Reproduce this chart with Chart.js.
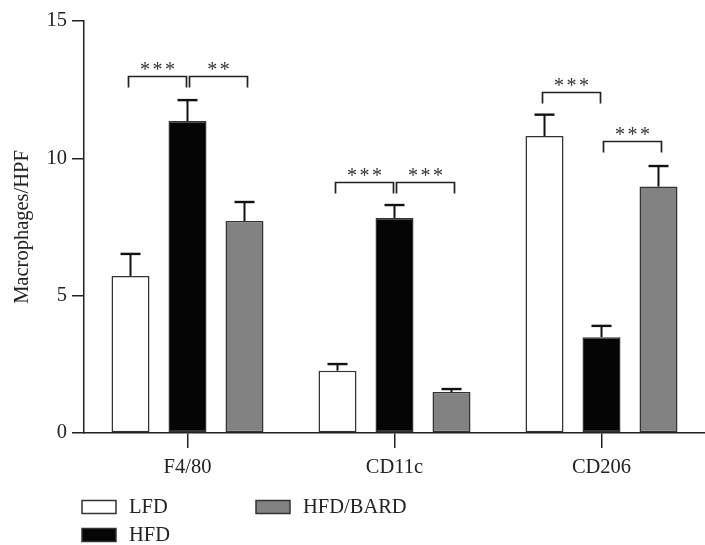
<!DOCTYPE html>
<html>
<head>
<meta charset="utf-8">
<script src="https://cdn.jsdelivr.net/npm/chart.js@4"></script>
<style>
  html, body { margin: 0; padding: 0; background: #fff; }
  #wrap { width: 705px; height: 545px; }
</style>
</head>
<body>
<div id="wrap"><canvas id="c"></canvas></div>
<script>
const CATEGORIES = ["F4/80", "CD11c", "CD206"];
const SERIES = ["LFD", "HFD", "HFD/BARD"];
const LFD = [5.72, 2.27, 10.81];
const HFD = [11.36, 7.83, 3.49];
const HFD_BARD = [7.72, 1.49, 8.97];
const LFD_ERR = [0.80, 0.24, 0.78];
const HFD_ERR = [0.76, 0.47, 0.41];
const HFD_BARD_ERR = [0.69, 0.11, 0.75];
const Y_TICKS = [0, 5, 10, 15];
// significance brackets: [category, from series, to series, height, stars]
const BRACKETS = [
    [0, 0, 1, 13.0, "***"], [0, 1, 2, 13.0, "**"],
    [1, 0, 1, 9.15, "***"], [1, 1, 2, 9.15, "***"],
    [2, 0, 1, 12.41, "***"], [2, 1, 2, 10.62, "***"],
];

const FONT = "'Liberation Serif', 'DejaVu Serif', serif";
const INK = "#222";
const FILLS = ["#ffffff", "#050505", "#828282"];
const ERRORS = [LFD_ERR, HFD_ERR, HFD_BARD_ERR];

// upward whiskers with a cap, drawn from each bar's top
const errorBars = {
    id: "errorBars",
    afterDatasetsDraw(chart) {
        const ctx = chart.ctx;
        const y = chart.scales.y;
        ctx.save();
        ctx.strokeStyle = "#111";
        chart.data.datasets.forEach((ds, i) => {
            chart.getDatasetMeta(i).data.forEach((bar, j) => {
                const top = y.getPixelForValue(ds.data[j] + ERRORS[i][j]);
                ctx.lineWidth = 2;
                ctx.beginPath();
                ctx.moveTo(bar.x, bar.y);
                ctx.lineTo(bar.x, top);
                ctx.stroke();
                ctx.lineWidth = 2.4;
                ctx.beginPath();
                ctx.moveTo(bar.x - 10, top);
                ctx.lineTo(bar.x + 10, top);
                ctx.stroke();
            });
        });
        ctx.restore();
    },
};

const brackets = {
    id: "brackets",
    afterDatasetsDraw(chart) {
        const ctx = chart.ctx;
        const y = chart.scales.y;
        ctx.save();
        ctx.strokeStyle = INK;
        ctx.fillStyle = "#333";
        ctx.lineWidth = 1.7;
        ctx.font = "20px " + FONT;
        ctx.letterSpacing = "2.5px";
        ctx.textAlign = "center";
        ctx.textBaseline = "alphabetic";
        BRACKETS.forEach(([cat, a, b, h, stars]) => {
            const shift = a === 0 ? [-2, -1] : [2, 3];
            const x1 = chart.getDatasetMeta(a).data[cat].x + shift[0];
            const x2 = chart.getDatasetMeta(b).data[cat].x + shift[1];
            const yy = Math.round(y.getPixelForValue(h)) + 0.5;
            ctx.beginPath();
            ctx.moveTo(x1, yy + 11);
            ctx.lineTo(x1, yy);
            ctx.lineTo(x2, yy);
            ctx.lineTo(x2, yy + 11);
            ctx.stroke();
            ctx.fillText(stars, (x1 + x2) / 2 + 1.2, yy - 1);
        });
        ctx.restore();
    },
};

// two-column legend under the axis
const legendBoxes = {
    id: "legendBoxes",
    afterDraw(chart) {
        const ctx = chart.ctx;
        const slots = [[82, 507], [82, 535], [256, 507]];
        ctx.save();
        ctx.font = "20.5px " + FONT;
        ctx.textBaseline = "middle";
        ctx.textAlign = "left";
        chart.data.datasets.forEach((ds, i) => {
            const [x, yc] = slots[i];
            ctx.fillStyle = ds.backgroundColor;
            ctx.fillRect(x, yc - 6.5, 34, 13);
            ctx.strokeStyle = "#333";
            ctx.lineWidth = 1.5;
            ctx.strokeRect(x, yc - 6.5, 34, 13);
            ctx.fillStyle = INK;
            ctx.fillText(ds.label, x + 47, yc + 1);
        });
        ctx.restore();
    },
};

new Chart(document.getElementById("c"), {
    type: "bar",
    data: {
        labels: CATEGORIES,
        datasets: [LFD, HFD, HFD_BARD].map((values, i) => ({
            label: SERIES[i],
            data: values,
            backgroundColor: FILLS[i],
            borderColor: "#333",
            borderWidth: 1.5,
            borderSkipped: false,
            categoryPercentage: 0.826,
            barPercentage: 0.667,
        })),
    },
    options: {
        responsive: true,
        maintainAspectRatio: false,
        animation: false,
        layout: { padding: { top: 21, left: 0, right: 0, bottom: 0 } },
        plugins: { legend: { display: false }, tooltip: { enabled: false } },
        scales: {
            x: {
                afterFit: (s) => { s.height = 112; },
                grid: {
                    offset: false,
                    drawOnChartArea: false,
                    drawTicks: true,
                    tickLength: 15,
                    color: INK,
                    lineWidth: 1.5,
                },
                border: { display: true, color: INK, width: 1.5 },
                ticks: { color: INK, font: { family: FONT, size: 20.5 }, padding: 7 },
            },
            y: {
                min: 0,
                max: 15,
                afterFit: (s) => { s.width = 84; },
                afterBuildTicks: (s) => { s.ticks = Y_TICKS.map((v) => ({ value: v })); },
                grid: {
                    drawOnChartArea: false,
                    drawTicks: true,
                    tickLength: 12,
                    color: INK,
                    lineWidth: 1.5,
                },
                border: { display: true, color: INK, width: 1.5 },
                ticks: { color: INK, font: { family: FONT, size: 20.5 }, padding: 5 },
                title: {
                    display: true,
                    text: "Macrophages/HPF",
                    color: INK,
                    font: { family: FONT, size: 20.5 },
                    padding: { top: 10, bottom: 0 },
                },
            },
        },
    },
    plugins: [errorBars, brackets, legendBoxes],
});
</script>
</body>
</html>
